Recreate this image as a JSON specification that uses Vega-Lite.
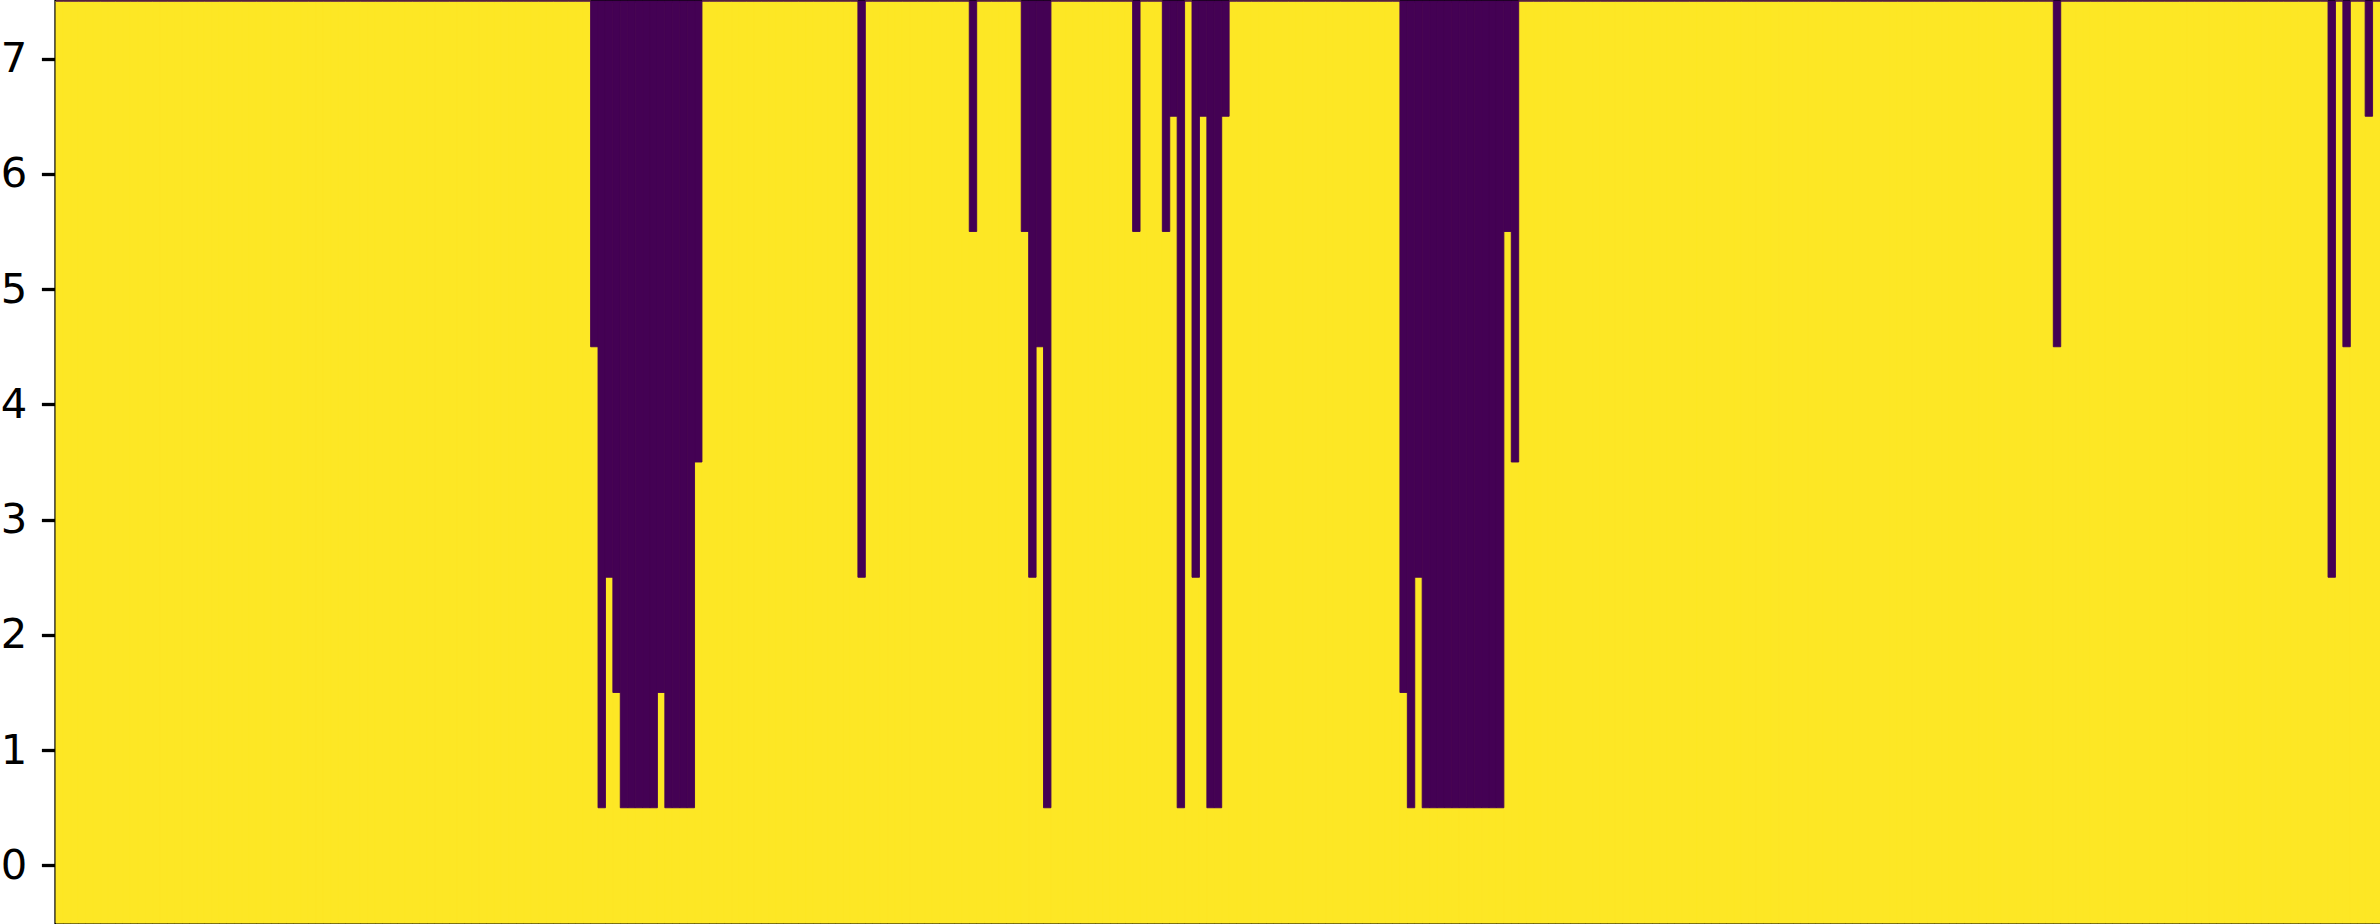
{
  "$schema": "https://vega.github.io/schema/vega-lite/v6.json",
  "width": 2324,
  "height": 922,
  "autosize": {"type": "none"},
  "padding": {"left": 56, "top": 1, "right": 0, "bottom": 1},
  "background": "white",
  "config": {
    "view": {"fill": "#fde725", "stroke": "black", "strokeWidth": 3.3}
  },
  "data": {"values": [
    {"col":0,"edge":7.5},{"col":1,"edge":7.5},{"col":2,"edge":7.5},{"col":3,"edge":7.5},{"col":4,"edge":7.5},{"col":5,"edge":7.5},{"col":6,"edge":7.5},{"col":7,"edge":7.5},{"col":8,"edge":7.5},{"col":9,"edge":7.5},
    {"col":10,"edge":7.5},{"col":11,"edge":7.5},{"col":12,"edge":7.5},{"col":13,"edge":7.5},{"col":14,"edge":7.5},{"col":15,"edge":7.5},{"col":16,"edge":7.5},{"col":17,"edge":7.5},{"col":18,"edge":7.5},{"col":19,"edge":7.5},
    {"col":20,"edge":7.5},{"col":21,"edge":7.5},{"col":22,"edge":7.5},{"col":23,"edge":7.5},{"col":24,"edge":7.5},{"col":25,"edge":7.5},{"col":26,"edge":7.5},{"col":27,"edge":7.5},{"col":28,"edge":7.5},{"col":29,"edge":7.5},
    {"col":30,"edge":7.5},{"col":31,"edge":7.5},{"col":32,"edge":7.5},{"col":33,"edge":7.5},{"col":34,"edge":7.5},{"col":35,"edge":7.5},{"col":36,"edge":7.5},{"col":37,"edge":7.5},{"col":38,"edge":7.5},{"col":39,"edge":7.5},
    {"col":40,"edge":7.5},{"col":41,"edge":7.5},{"col":42,"edge":7.5},{"col":43,"edge":7.5},{"col":44,"edge":7.5},{"col":45,"edge":7.5},{"col":46,"edge":7.5},{"col":47,"edge":7.5},{"col":48,"edge":7.5},{"col":49,"edge":7.5},
    {"col":50,"edge":7.5},{"col":51,"edge":7.5},{"col":52,"edge":7.5},{"col":53,"edge":7.5},{"col":54,"edge":7.5},{"col":55,"edge":7.5},{"col":56,"edge":7.5},{"col":57,"edge":7.5},{"col":58,"edge":7.5},{"col":59,"edge":7.5},
    {"col":60,"edge":7.5},{"col":61,"edge":7.5},{"col":62,"edge":7.5},{"col":63,"edge":7.5},{"col":64,"edge":7.5},{"col":65,"edge":7.5},{"col":66,"edge":7.5},{"col":67,"edge":7.5},{"col":68,"edge":7.5},{"col":69,"edge":7.5},
    {"col":70,"edge":7.5},{"col":71,"edge":7.5},{"col":72,"edge":4.5},{"col":73,"edge":0.5},{"col":74,"edge":2.5},{"col":75,"edge":1.5},{"col":76,"edge":0.5},{"col":77,"edge":0.5},{"col":78,"edge":0.5},{"col":79,"edge":0.5},
    {"col":80,"edge":0.5},{"col":81,"edge":1.5},{"col":82,"edge":0.5},{"col":83,"edge":0.5},{"col":84,"edge":0.5},{"col":85,"edge":0.5},{"col":86,"edge":3.5},{"col":87,"edge":7.5},{"col":88,"edge":7.5},{"col":89,"edge":7.5},
    {"col":90,"edge":7.5},{"col":91,"edge":7.5},{"col":92,"edge":7.5},{"col":93,"edge":7.5},{"col":94,"edge":7.5},{"col":95,"edge":7.5},{"col":96,"edge":7.5},{"col":97,"edge":7.5},{"col":98,"edge":7.5},{"col":99,"edge":7.5},
    {"col":100,"edge":7.5},{"col":101,"edge":7.5},{"col":102,"edge":7.5},{"col":103,"edge":7.5},{"col":104,"edge":7.5},{"col":105,"edge":7.5},{"col":106,"edge":7.5},{"col":107,"edge":7.5},{"col":108,"edge":2.5},{"col":109,"edge":7.5},
    {"col":110,"edge":7.5},{"col":111,"edge":7.5},{"col":112,"edge":7.5},{"col":113,"edge":7.5},{"col":114,"edge":7.5},{"col":115,"edge":7.5},{"col":116,"edge":7.5},{"col":117,"edge":7.5},{"col":118,"edge":7.5},{"col":119,"edge":7.5},
    {"col":120,"edge":7.5},{"col":121,"edge":7.5},{"col":122,"edge":7.5},{"col":123,"edge":5.5},{"col":124,"edge":7.5},{"col":125,"edge":7.5},{"col":126,"edge":7.5},{"col":127,"edge":7.5},{"col":128,"edge":7.5},{"col":129,"edge":7.5},
    {"col":130,"edge":5.5},{"col":131,"edge":2.5},{"col":132,"edge":4.5},{"col":133,"edge":0.5},{"col":134,"edge":7.5},{"col":135,"edge":7.5},{"col":136,"edge":7.5},{"col":137,"edge":7.5},{"col":138,"edge":7.5},{"col":139,"edge":7.5},
    {"col":140,"edge":7.5},{"col":141,"edge":7.5},{"col":142,"edge":7.5},{"col":143,"edge":7.5},{"col":144,"edge":7.5},{"col":145,"edge":5.5},{"col":146,"edge":7.5},{"col":147,"edge":7.5},{"col":148,"edge":7.5},{"col":149,"edge":5.5},
    {"col":150,"edge":6.5},{"col":151,"edge":0.5},{"col":152,"edge":7.5},{"col":153,"edge":2.5},{"col":154,"edge":6.5},{"col":155,"edge":0.5},{"col":156,"edge":0.5},{"col":157,"edge":6.5},{"col":158,"edge":7.5},{"col":159,"edge":7.5},
    {"col":160,"edge":7.5},{"col":161,"edge":7.5},{"col":162,"edge":7.5},{"col":163,"edge":7.5},{"col":164,"edge":7.5},{"col":165,"edge":7.5},{"col":166,"edge":7.5},{"col":167,"edge":7.5},{"col":168,"edge":7.5},{"col":169,"edge":7.5},
    {"col":170,"edge":7.5},{"col":171,"edge":7.5},{"col":172,"edge":7.5},{"col":173,"edge":7.5},{"col":174,"edge":7.5},{"col":175,"edge":7.5},{"col":176,"edge":7.5},{"col":177,"edge":7.5},{"col":178,"edge":7.5},{"col":179,"edge":7.5},
    {"col":180,"edge":7.5},{"col":181,"edge":1.5},{"col":182,"edge":0.5},{"col":183,"edge":2.5},{"col":184,"edge":0.5},{"col":185,"edge":0.5},{"col":186,"edge":0.5},{"col":187,"edge":0.5},{"col":188,"edge":0.5},{"col":189,"edge":0.5},
    {"col":190,"edge":0.5},{"col":191,"edge":0.5},{"col":192,"edge":0.5},{"col":193,"edge":0.5},{"col":194,"edge":0.5},{"col":195,"edge":5.5},{"col":196,"edge":3.5},{"col":197,"edge":7.5},{"col":198,"edge":7.5},{"col":199,"edge":7.5},
    {"col":200,"edge":7.5},{"col":201,"edge":7.5},{"col":202,"edge":7.5},{"col":203,"edge":7.5},{"col":204,"edge":7.5},{"col":205,"edge":7.5},{"col":206,"edge":7.5},{"col":207,"edge":7.5},{"col":208,"edge":7.5},{"col":209,"edge":7.5},
    {"col":210,"edge":7.5},{"col":211,"edge":7.5},{"col":212,"edge":7.5},{"col":213,"edge":7.5},{"col":214,"edge":7.5},{"col":215,"edge":7.5},{"col":216,"edge":7.5},{"col":217,"edge":7.5},{"col":218,"edge":7.5},{"col":219,"edge":7.5},
    {"col":220,"edge":7.5},{"col":221,"edge":7.5},{"col":222,"edge":7.5},{"col":223,"edge":7.5},{"col":224,"edge":7.5},{"col":225,"edge":7.5},{"col":226,"edge":7.5},{"col":227,"edge":7.5},{"col":228,"edge":7.5},{"col":229,"edge":7.5},
    {"col":230,"edge":7.5},{"col":231,"edge":7.5},{"col":232,"edge":7.5},{"col":233,"edge":7.5},{"col":234,"edge":7.5},{"col":235,"edge":7.5},{"col":236,"edge":7.5},{"col":237,"edge":7.5},{"col":238,"edge":7.5},{"col":239,"edge":7.5},
    {"col":240,"edge":7.5},{"col":241,"edge":7.5},{"col":242,"edge":7.5},{"col":243,"edge":7.5},{"col":244,"edge":7.5},{"col":245,"edge":7.5},{"col":246,"edge":7.5},{"col":247,"edge":7.5},{"col":248,"edge":7.5},{"col":249,"edge":7.5},
    {"col":250,"edge":7.5},{"col":251,"edge":7.5},{"col":252,"edge":7.5},{"col":253,"edge":7.5},{"col":254,"edge":7.5},{"col":255,"edge":7.5},{"col":256,"edge":7.5},{"col":257,"edge":7.5},{"col":258,"edge":7.5},{"col":259,"edge":7.5},
    {"col":260,"edge":7.5},{"col":261,"edge":7.5},{"col":262,"edge":7.5},{"col":263,"edge":7.5},{"col":264,"edge":7.5},{"col":265,"edge":7.5},{"col":266,"edge":7.5},{"col":267,"edge":7.5},{"col":268,"edge":7.5},{"col":269,"edge":4.5},
    {"col":270,"edge":7.5},{"col":271,"edge":7.5},{"col":272,"edge":7.5},{"col":273,"edge":7.5},{"col":274,"edge":7.5},{"col":275,"edge":7.5},{"col":276,"edge":7.5},{"col":277,"edge":7.5},{"col":278,"edge":7.5},{"col":279,"edge":7.5},
    {"col":280,"edge":7.5},{"col":281,"edge":7.5},{"col":282,"edge":7.5},{"col":283,"edge":7.5},{"col":284,"edge":7.5},{"col":285,"edge":7.5},{"col":286,"edge":7.5},{"col":287,"edge":7.5},{"col":288,"edge":7.5},{"col":289,"edge":7.5},
    {"col":290,"edge":7.5},{"col":291,"edge":7.5},{"col":292,"edge":7.5},{"col":293,"edge":7.5},{"col":294,"edge":7.5},{"col":295,"edge":7.5},{"col":296,"edge":7.5},{"col":297,"edge":7.5},{"col":298,"edge":7.5},{"col":299,"edge":7.5},
    {"col":300,"edge":7.5},{"col":301,"edge":7.5},{"col":302,"edge":7.5},{"col":303,"edge":7.5},{"col":304,"edge":7.5},{"col":305,"edge":7.5},{"col":306,"edge":2.5},{"col":307,"edge":7.5},{"col":308,"edge":4.5},{"col":309,"edge":7.5},
    {"col":310,"edge":7.5},{"col":311,"edge":6.5},{"col":312,"edge":7.5}
  ]},
  "encoding": {
    "x": {"field": "col", "type": "ordinal", "axis": null, "scale": {"paddingInner": 0, "paddingOuter": 0}}
  },
  "layer": [
    {
      "mark": {"type": "rect", "color": "#fde725", "stroke": "#fde725", "strokeWidth": 1},
      "encoding": {
        "y": {
          "field": "edge", "type": "quantitative",
          "scale": {"domain": [-0.5, 7.5], "nice": false, "zero": false},
          "axis": {
            "values": [0, 1, 2, 3, 4, 5, 6, 7], "format": "d", "title": null,
            "grid": false, "domain": false,
            "labelFont": "DejaVu Sans", "labelFontSize": 41.7, "labelColor": "black",
            "tickColor": "black", "tickWidth": 3.3, "tickSize": 14.6, "labelPadding": 14.6
          }
        },
        "y2": {"datum": -0.5}
      }
    },
    {
      "mark": {"type": "rect", "color": "#440154", "stroke": "#440154", "strokeWidth": 0.9},
      "encoding": {
        "y": {"field": "edge", "type": "quantitative"},
        "y2": {"datum": 7.5}
      }
    }
  ]
}
